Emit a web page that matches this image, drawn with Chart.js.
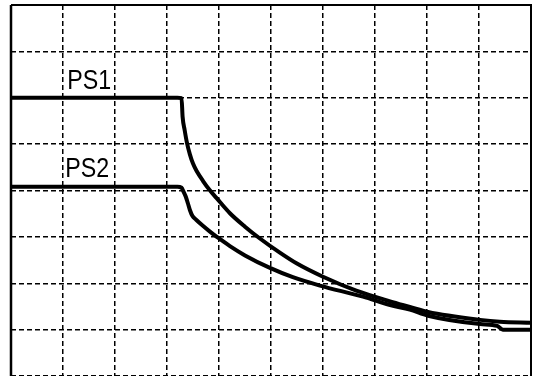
<!DOCTYPE html>
<html>
<head>
<meta charset="utf-8">
<script src="https://cdn.jsdelivr.net/npm/chart.js@4"></script>
<style>
  html, body { margin: 0; padding: 0; background: #fff; overflow: hidden; }
  .wrap { width: 533px; height: 376px; overflow: hidden; }
</style>
</head>
<body>
<div class="wrap">
  <canvas id="myChart" width="533" height="380"></canvas>
</div>
<script>
// values (x: 10 grid divisions, y: 8 grid divisions)
const ps1X = [0, 3.2, 3.28, 3.3, 3.34, 3.38, 3.44, 3.5, 3.57, 3.69, 3.82, 3.95, 4.21, 4.5, 4.78, 5.17, 5.49, 6.0, 6.64, 7.29, 7.67, 8.02, 9.02, 9.4, 10];
const ps1Y = [6.0, 6.0, 5.99, 5.59, 5.3, 5.05, 4.78, 4.58, 4.42, 4.21, 4.01, 3.84, 3.51, 3.22, 2.97, 2.66, 2.43, 2.14, 1.84, 1.61, 1.49, 1.38, 1.21, 1.17, 1.15];

const ps2X = [0, 3.2, 3.28, 3.32, 3.36, 3.4, 3.44, 3.49, 3.56, 3.69, 3.82, 4.01, 4.21, 4.5, 4.98, 5.42, 5.94, 6.77, 7.29, 7.67, 8.02, 9.02, 9.35, 9.46, 10];
const ps2Y = [4.08, 4.08, 4.06, 3.97, 3.87, 3.73, 3.58, 3.45, 3.37, 3.24, 3.12, 2.96, 2.8, 2.6, 2.33, 2.13, 1.95, 1.71, 1.53, 1.43, 1.3, 1.12, 1.08, 1.0, 1.0];

const seriesNames = ["PS1", "PS2"];
const labelAt = 1.1; // x position of the series names

function toPoints(xs, ys) {
  return xs.map((x, i) => ({ x: x, y: ys[i] }));
}

// frame around the plot area + series names
const framePlugin = {
  id: "frame",
  afterDatasetsDraw(chart) {
    const { ctx, chartArea: a, scales } = chart;
    ctx.save();
    ctx.strokeStyle = "#000";
    ctx.lineWidth = 2.5;
    ctx.beginPath();
    ctx.moveTo(a.left, a.bottom);
    ctx.lineTo(a.left, a.top);
    ctx.stroke();
    ctx.lineWidth = 2;
    ctx.beginPath();
    ctx.moveTo(a.left, a.top);
    ctx.lineTo(a.right, a.top);
    ctx.lineTo(a.right, a.bottom);
    ctx.stroke();

    ctx.fillStyle = "#000";
    ctx.font = "27px 'Liberation Sans', Arial, sans-serif";
    ctx.textBaseline = "alphabetic";
    const levels = [ps1Y[0], ps2Y[0]];
    seriesNames.forEach((name, i) => {
      const px = scales.x.getPixelForValue(labelAt) - (i === 1 ? 3 : 1);
      const py = scales.y.getPixelForValue(levels[i]) - (i === 1 ? 10 : 9);
      ctx.save();
      ctx.translate(px, py);
      ctx.scale(0.86, 1);
      ctx.fillText(name, 0, 0);
      ctx.restore();
    });
    ctx.restore();
  },
};

const ctx = document.getElementById("myChart").getContext("2d");

const lineStyle = {
  showLine: true,
  fill: false,
  borderColor: "#000",
  borderWidth: 4,
  pointRadius: 0,
  cubicInterpolationMode: "monotone",
};

new Chart(ctx, {
  type: "scatter",
  data: {
    datasets: [
      { label: seriesNames[0], data: toPoints(ps1X, ps1Y), ...lineStyle },
      { label: seriesNames[1], data: toPoints(ps2X, ps2Y), ...lineStyle },
    ],
  },
  options: {
    responsive: false,
    animation: false,
    layout: { padding: { left: 11, top: 5, right: 2, bottom: 4 } },
    plugins: {
      legend: { display: false },
      tooltip: { enabled: false },
    },
    scales: {
      x: {
        type: "linear",
        min: 0,
        max: 10,
        ticks: { display: false, stepSize: 1 },
        grid: { color: "#000", lineWidth: 1.5, drawTicks: false },
        border: { display: false, dash: [5, 3] },
      },
      y: {
        type: "linear",
        min: 0,
        max: 8,
        ticks: { display: false, stepSize: 1 },
        grid: { color: "#000", lineWidth: 1.5, drawTicks: false },
        border: { display: false, dash: [5, 3] },
      },
    },
  },
  plugins: [framePlugin],
});
</script>
</body>
</html>
